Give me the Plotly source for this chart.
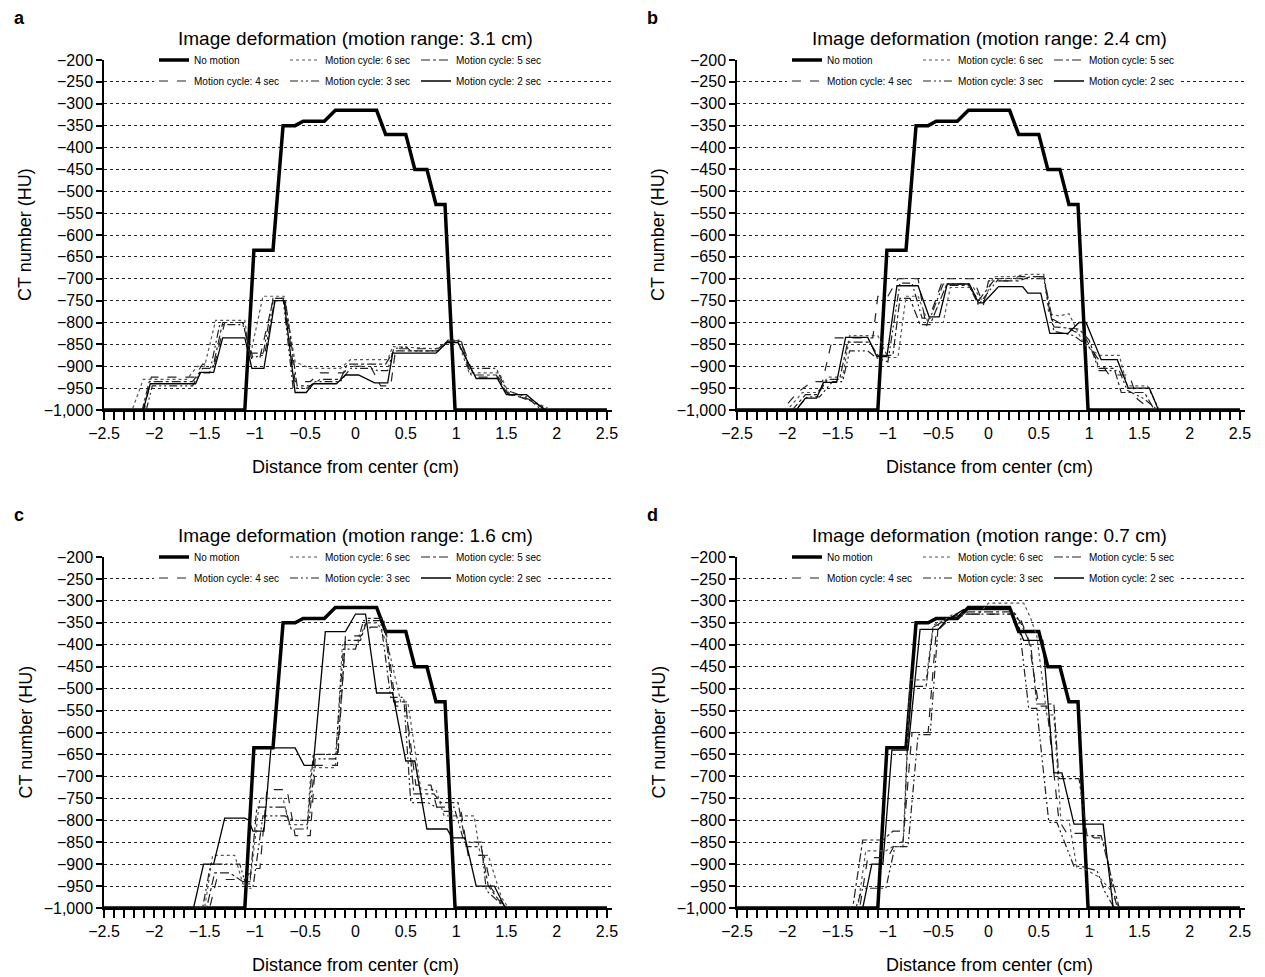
import plotly.graph_objects as go

# ---- data (breakpoints of each profile, x in cm, y in HU) ----
NOMO_X = [-2.5, -1.1, -1.01, -0.82, -0.72, -0.6, -0.52, -0.31, -0.2, 0.21, 0.3, 0.5, 0.59, 0.71, 0.8, 0.89, 0.99, 2.5]
NOMO_Y = [-1000, -1000, -635, -635, -350, -350, -340, -340, -315, -315, -370, -370, -450, -450, -530, -530, -1000, -1000]

# panel a: motion range 3.1 cm
A6_X = [-2.5, -2.22, -2.11, -1.68, -1.57, -1.50, -1.39, -1.10, -1.05, -0.92, -0.71, -0.60, -0.45, -0.15, -0.05, 0.32, 0.37, 0.80, 0.91, 1.02, 1.13, 1.43, 1.52, 1.72, 1.95, 2.5]
A6_Y = [-1000, -1000, -930, -930, -900, -900, -795, -795, -880, -740, -740, -890, -905, -905, -885, -885, -855, -860, -845, -845, -915, -915, -960, -975, -1000, -1000]
A5_X = [-2.5, -2.12, -2.05, -1.62, -1.52, -1.42, -1.32, -1.12, -1.04, -0.90, -0.80, -0.70, -0.58, -0.45, -0.35, -0.15, -0.08, 0.30, 0.38, 0.82, 0.92, 1.05, 1.15, 1.40, 1.50, 1.75, 1.92, 2.5]
A5_Y = [-1000, -1000, -935, -935, -905, -905, -800, -800, -870, -870, -745, -745, -945, -945, -930, -930, -895, -895, -865, -865, -843, -843, -920, -920, -960, -980, -1000, -1000]
A4_X = [-2.5, -2.10, -2.03, -1.60, -1.52, -1.40, -1.30, -1.12, -1.03, -0.95, -0.82, -0.70, -0.60, -0.45, -0.35, -0.12, -0.05, 0.15, 0.25, 0.35, 0.40, 0.82, 0.92, 1.05, 1.18, 1.42, 1.52, 1.72, 1.90, 2.5]
A4_Y = [-1000, -1000, -925, -925, -895, -895, -800, -800, -885, -880, -750, -750, -935, -935, -915, -915, -900, -900, -945, -945, -860, -860, -842, -842, -925, -925, -965, -975, -1000, -1000]
A3_X = [-2.5, -2.08, -2.02, -1.62, -1.55, -1.45, -1.35, -1.12, -1.02, -0.92, -0.82, -0.72, -0.62, -0.48, -0.40, -0.15, -0.05, 0.15, 0.22, 0.32, 0.38, 0.50, 0.55, 0.82, 0.92, 1.05, 1.12, 1.40, 1.50, 1.70, 1.85, 2.5]
A3_Y = [-1000, -1000, -945, -945, -915, -915, -805, -805, -880, -875, -745, -745, -950, -950, -935, -935, -905, -905, -910, -910, -860, -855, -865, -865, -840, -840, -905, -905, -955, -970, -1000, -1000]
A2_X = [-2.5, -2.11, -2.04, -1.59, -1.54, -1.41, -1.32, -1.10, -1.03, -0.91, -0.80, -0.71, -0.60, -0.49, -0.42, -0.19, -0.10, 0.03, 0.19, 0.32, 0.37, 0.80, 0.91, 1.02, 1.20, 1.41, 1.50, 1.70, 1.88, 2.5]
A2_Y = [-1000, -1000, -940, -940, -914, -914, -835, -835, -905, -905, -750, -750, -960, -960, -940, -940, -920, -920, -938, -938, -870, -870, -846, -846, -928, -928, -965, -965, -1000, -1000]

# panel b: motion range 2.4 cm
B6_X = [-2.5, -2.00, -1.85, -1.70, -1.60, -1.45, -1.38, -1.10, -1.00, -0.90, -0.82, -0.70, -0.60, -0.45, -0.38, -0.15, -0.05, 0.05, 0.25, 0.38, 0.55, 0.60, 0.70, 0.80, 0.95, 1.10, 1.30, 1.38, 1.58, 1.70, 2.5]
B6_Y = [-1000, -1000, -960, -960, -925, -925, -830, -830, -880, -880, -740, -740, -800, -800, -720, -720, -755, -695, -695, -690, -690, -780, -785, -780, -850, -875, -875, -945, -945, -1000, -1000]
B5_X = [-2.5, -1.95, -1.82, -1.70, -1.60, -1.48, -1.40, -1.18, -1.10, -0.95, -0.88, -0.78, -0.68, -0.58, -0.42, -0.20, -0.10, 0.05, 0.30, 0.42, 0.55, 0.65, 0.90, 1.00, 1.10, 1.25, 1.32, 1.55, 1.65, 2.5]
B5_Y = [-1000, -1000, -965, -965, -930, -930, -845, -845, -875, -875, -745, -745, -805, -805, -715, -715, -750, -705, -705, -695, -695, -810, -815, -840, -905, -905, -960, -960, -1000, -1000]
B4_X = [-2.5, -2.05, -1.90, -1.75, -1.65, -1.55, -1.15, -1.10, -1.00, -0.90, -0.70, -0.62, -0.45, -0.15, -0.05, 0.00, 0.20, 0.30, 0.55, 0.62, 0.85, 0.95, 1.05, 1.20, 1.40, 1.48, 1.62, 2.5]
B4_Y = [-1000, -1000, -960, -935, -935, -835, -835, -740, -740, -700, -700, -810, -700, -700, -760, -705, -705, -695, -695, -790, -820, -830, -870, -920, -920, -975, -1000, -1000]
B3_X = [-2.5, -1.92, -1.80, -1.68, -1.55, -1.45, -1.38, -1.20, -1.12, -1.00, -0.88, -0.76, -0.66, -0.58, -0.45, -0.20, -0.10, 0.10, 0.35, 0.45, 0.55, 0.65, 0.85, 1.02, 1.10, 1.30, 1.38, 1.55, 1.68, 2.5]
B3_Y = [-1000, -1000, -970, -970, -935, -935, -865, -865, -880, -890, -710, -710, -790, -790, -712, -712, -760, -700, -700, -700, -700, -820, -830, -860, -910, -910, -955, -975, -1000, -1000]
B2_X = [-2.5, -1.91, -1.82, -1.71, -1.64, -1.51, -1.42, -1.20, -1.11, -1.01, -0.91, -0.70, -0.59, -0.49, -0.41, -0.19, -0.10, -0.05, 0.10, 0.34, 0.39, 0.52, 0.61, 0.79, 0.90, 0.97, 1.12, 1.28, 1.39, 1.60, 1.69, 2.5]
B2_Y = [-1000, -1000, -973, -973, -937, -937, -834, -834, -878, -878, -716, -716, -787, -787, -712, -712, -755, -755, -718, -718, -733, -733, -825, -825, -800, -800, -885, -885, -950, -950, -1000, -1000]

# panel c: motion range 1.6 cm
C6_X = [-2.5, -1.50, -1.42, -1.20, -1.12, -1.05, -0.95, -0.72, -0.66, -0.48, -0.44, -0.20, -0.13, 0.02, 0.10, 0.22, 0.32, 0.45, 0.52, 0.65, 0.80, 0.88, 0.95, 1.18, 1.24, 1.32, 1.45, 1.52, 2.5]
C6_Y = [-1000, -1000, -880, -880, -945, -945, -750, -750, -810, -810, -680, -680, -400, -400, -350, -350, -400, -530, -530, -730, -730, -790, -790, -790, -880, -880, -975, -1000, -1000]
C5_X = [-2.5, -1.48, -1.40, -1.25, -1.12, -1.05, -0.98, -0.70, -0.64, -0.48, -0.42, -0.18, -0.10, 0.05, 0.12, 0.28, 0.38, 0.50, 0.58, 0.78, 0.85, 1.02, 1.10, 1.25, 1.32, 1.45, 1.50, 2.5]
C5_Y = [-1000, -1000, -920, -920, -940, -940, -770, -770, -820, -820, -650, -650, -390, -390, -340, -340, -530, -530, -740, -740, -760, -760, -860, -860, -950, -990, -1000, -1000]
C4_X = [-2.5, -1.45, -1.38, -1.10, -1.02, -0.95, -0.88, -0.68, -0.60, -0.45, -0.40, -0.18, -0.10, 0.05, 0.15, 0.30, 0.40, 0.50, 0.60, 0.75, 0.82, 1.05, 1.12, 1.28, 1.35, 1.48, 1.52, 2.5]
C4_Y = [-1000, -1000, -935, -935, -910, -910, -730, -730, -835, -835, -675, -675, -380, -380, -360, -360, -540, -540, -720, -720, -780, -780, -880, -880, -955, -995, -1000, -1000]
C3_X = [-2.5, -1.52, -1.44, -1.15, -1.08, -1.02, -0.92, -0.70, -0.62, -0.46, -0.40, -0.20, -0.12, 0.00, 0.08, 0.25, 0.35, 0.48, 0.55, 0.72, 0.80, 0.98, 1.08, 1.25, 1.30, 1.42, 1.48, 2.5]
C3_Y = [-1000, -1000, -900, -900, -955, -955, -790, -790, -800, -800, -660, -660, -410, -410, -345, -345, -520, -520, -760, -760, -770, -770, -850, -850, -960, -985, -1000, -1000]
C2_X = [-2.5, -1.61, -1.51, -1.41, -1.30, -1.10, -1.06, -1.02, -0.91, -0.84, -0.60, -0.51, -0.42, -0.30, -0.10, 0.00, 0.10, 0.21, 0.37, 0.50, 0.59, 0.71, 0.91, 0.96, 1.09, 1.20, 1.38, 1.49, 2.5]
C2_Y = [-1000, -1000, -900, -900, -795, -795, -800, -825, -825, -635, -635, -675, -675, -370, -370, -330, -330, -510, -510, -665, -665, -820, -820, -840, -840, -950, -950, -1000, -1000]

# panel d: motion range 0.7 cm
D6_X = [-2.5, -1.30, -1.22, -1.02, -0.95, -0.85, -0.78, -0.62, -0.55, -0.45, -0.35, -0.10, 0.00, 0.35, 0.42, 0.48, 0.58, 0.65, 0.72, 0.80, 0.88, 0.95, 1.10, 1.20, 1.30, 2.5]
D6_Y = [-1000, -1000, -870, -870, -860, -860, -480, -480, -355, -345, -330, -330, -305, -305, -340, -380, -560, -560, -800, -800, -910, -910, -930, -955, -1000, -1000]
D5_X = [-2.5, -1.35, -1.25, -1.05, -0.95, -0.84, -0.78, -0.62, -0.55, -0.40, -0.20, 0.25, 0.32, 0.42, 0.48, 0.65, 0.70, 0.90, 0.98, 1.12, 1.20, 1.30, 2.5]
D5_Y = [-1000, -1000, -845, -845, -825, -825, -495, -495, -360, -340, -325, -325, -350, -400, -535, -535, -705, -705, -835, -835, -910, -1000, -1000]
D4_X = [-2.5, -1.28, -1.20, -1.00, -0.92, -0.85, -0.76, -0.60, -0.52, -0.40, -0.20, 0.30, 0.40, 0.50, 0.58, 0.70, 0.78, 0.98, 1.05, 1.15, 1.22, 1.28, 2.5]
D4_Y = [-1000, -1000, -885, -885, -850, -850, -600, -600, -370, -345, -330, -330, -390, -540, -540, -800, -830, -830, -840, -840, -940, -1000, -1000]
D3_X = [-2.5, -1.32, -1.25, -1.02, -0.93, -0.80, -0.70, -0.58, -0.50, -0.30, 0.25, 0.30, 0.40, 0.48, 0.60, 0.68, 0.85, 0.92, 1.08, 1.15, 1.25, 2.5]
D3_Y = [-1000, -1000, -955, -955, -860, -860, -605, -605, -355, -330, -330, -345, -545, -545, -805, -805, -905, -905, -915, -960, -1000, -1000]
D2_X = [-2.5, -1.25, -1.16, -1.05, -0.96, -0.80, -0.68, -0.50, -0.42, -0.25, 0.22, 0.35, 0.54, 0.65, 0.73, 0.85, 1.14, 1.24, 2.5]
D2_Y = [-1000, -1000, -900, -900, -640, -640, -365, -365, -345, -320, -320, -390, -390, -692, -692, -809, -809, -1000, -1000]

LETTERS = ["a", "b", "c", "d"]
RANGES = ["3.1", "2.4", "1.6", "0.7"]
NAMES = ["No motion", "Motion cycle: 6 sec", "Motion cycle: 5 sec",
         "Motion cycle: 4 sec", "Motion cycle: 3 sec", "Motion cycle: 2 sec"]

PANELS = [
    [(NOMO_X, NOMO_Y), (A6_X, A6_Y), (A5_X, A5_Y), (A4_X, A4_Y), (A3_X, A3_Y), (A2_X, A2_Y)],
    [(NOMO_X, NOMO_Y), (B6_X, B6_Y), (B5_X, B5_Y), (B4_X, B4_Y), (B3_X, B3_Y), (B2_X, B2_Y)],
    [(NOMO_X, NOMO_Y), (C6_X, C6_Y), (C5_X, C5_Y), (C4_X, C4_Y), (C3_X, C3_Y), (C2_X, C2_Y)],
    [(NOMO_X, NOMO_Y), (D6_X, D6_Y), (D5_X, D5_Y), (D4_X, D4_Y), (D3_X, D3_Y), (D2_X, D2_Y)],
]

# the page body adds an 8 px margin, so the figure is a bit smaller than the window
OFF = 8
W, H = 1265 - OFF, 977 - OFF
FONT = "Arial, Liberation Sans, sans-serif"

# line styles per series
STYLES = [
    dict(color="black", width=3.5, dash="solid"),
    dict(color="#555555", width=1.2, dash="dot"),
    dict(color="#222222", width=1.2, dash="dashdot"),
    dict(color="#222222", width=1.2, dash="dash"),
    dict(color="#222222", width=1.2, dash="8px,3px,2px,3px,2px,3px"),
    dict(color="black", width=1.3, dash="solid"),
]

# screen pixel geometry of each panel: (x left, x right, y top (-200), y bottom (-1000))
GEOM = [(104, 612, 60, 410), (737, 1245, 60, 410),
        (104, 612, 557, 908), (737, 1245, 557, 908)]


def px(x):
    return (x - OFF) / W


def py(y):
    return 1 - (y - OFF) / H


fig = go.Figure()
layout = dict(width=W, height=H,
              margin=dict(l=0, r=0, t=0, b=0, pad=0, autoexpand=False),
              paper_bgcolor="white", plot_bgcolor="white",
              font=dict(family=FONT, color="black"), annotations=[])

for p, series in enumerate(PANELS):
    n = p + 1
    xs = "" if n == 1 else str(n)
    x0, x1, y0, y1 = GEOM[p]
    leg1 = "legend" if n == 1 else f"legend{2 * n - 1}"
    leg2 = f"legend{2 * n}"
    for i, (sx, sy) in enumerate(series):
        fig.add_trace(go.Scatter(
            x=sx, y=sy, mode="lines", name=NAMES[i], line=STYLES[i],
            xaxis="x" + xs, yaxis="y" + xs,
            legend=leg1 if i < 3 else leg2, hoverinfo="skip"))

    layout["xaxis" + xs] = dict(
        domain=[px(x0), px(x1)], range=[-2.5, 2.55], anchor="y" + xs,
        tick0=-2.5, dtick=0.5, ticks="outside", ticklen=8, tickwidth=1.5,
        tickcolor="black", showline=True, linecolor="black", linewidth=2,
        showgrid=False, zeroline=False, tickfont=dict(size=16),
        minor=dict(tick0=-2.5, dtick=0.1, ticks="outside", ticklen=8,
                   tickwidth=1.5, tickcolor="black", showgrid=False))
    layout["yaxis" + xs] = dict(
        domain=[py(y1), py(y0)], range=[-1000, -200], anchor="x" + xs,
        dtick=50, tickformat=",d", ticks="outside", ticklen=6, tickwidth=1.5,
        tickcolor="black", showline=True, linecolor="black", linewidth=1.5,
        showgrid=True, gridcolor="#222222", griddash="dot", gridwidth=1,
        zeroline=False, tickfont=dict(size=16))

    lx = x0 + 50
    for key, yy in ((leg1, y0), (leg2, y0 + 21)):
        layout[key] = dict(x=px(lx), y=py(yy), xanchor="left", yanchor="middle",
                           orientation="h", entrywidth=86, bgcolor="white",
                           font=dict(size=10, family=FONT), itemwidth=30,
                           tracegroupgap=0, borderwidth=0)

    cx = (x0 + x1) / 2 - 2
    layout["annotations"] += [
        dict(text=f"<b>{LETTERS[p]}</b>", x=px(x0 - 92), y=py(y0 - 42), xref="paper",
             yref="paper", showarrow=False, font=dict(size=18),
             xanchor="left", yanchor="middle"),
        dict(text=f"Image deformation (motion range: {RANGES[p]} cm)", x=px(cx),
             y=py(y0 - 22), xref="paper", yref="paper", showarrow=False,
             font=dict(size=19), xanchor="center", yanchor="middle"),
        dict(text="Distance from center (cm)", x=px(cx), y=py(y1 + 57),
             xref="paper", yref="paper", showarrow=False, font=dict(size=18),
             xanchor="center", yanchor="middle"),
        dict(text="CT number (HU)", x=px(x0 - 79), y=py((y0 + y1) / 2),
             xref="paper", yref="paper", showarrow=False, textangle=-90,
             font=dict(size=18), xanchor="center", yanchor="middle"),
    ]

fig.update_layout(**layout)
fig.write_html("out.html")
